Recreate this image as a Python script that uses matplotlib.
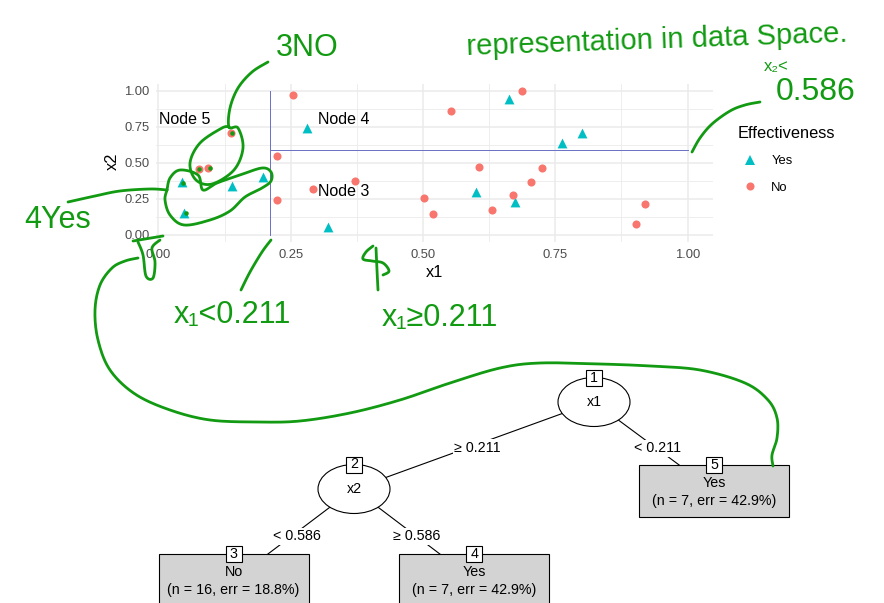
import matplotlib
matplotlib.use('Agg')
import matplotlib.pyplot as plt
import numpy as np
from matplotlib.patches import Ellipse, Rectangle
from matplotlib.lines import Line2D

plt.rcParams['font.family'] = ['Liberation Sans', 'DejaVu Sans']

# ---------------- data ----------------
yes_x1 = [0.044, 0.049, 0.140, 0.197, 0.280, 0.321, 0.663, 0.763, 0.801, 0.600, 0.673]
yes_x2 = [0.369, 0.155, 0.340, 0.404, 0.739, 0.058, 0.945, 0.635, 0.707, 0.298, 0.227]
no_x1 = [0.138, 0.077, 0.094, 0.255, 0.224, 0.225, 0.293, 0.371, 0.688, 0.552,
         0.605, 0.725, 0.704, 0.671, 0.501, 0.519, 0.630, 0.920, 0.903]
no_x2 = [0.705, 0.457, 0.464, 0.972, 0.550, 0.243, 0.321, 0.376, 0.998, 0.859,
         0.471, 0.466, 0.369, 0.275, 0.259, 0.148, 0.175, 0.213, 0.076]
class_labels = ['Yes', 'No']
split_var = ['x1', 'x2']
split_value = [0.211, 0.586]
node_names = ['Node 5', 'Node 4', 'Node 3']
node_label_x = [0.05, 0.35, 0.35]
node_label_y = [0.80, 0.80, 0.30]
term_ids = [3, 4, 5]
term_pred = ['No', 'Yes', 'Yes']
term_n = [16, 7, 7]
term_err = [18.8, 42.9, 42.9]
x_ticks = [0.0, 0.25, 0.50, 0.75, 1.00]
y_ticks = [0.0, 0.25, 0.50, 0.75, 1.00]

YES_C = '#00BFC4'
NO_C = '#F8766D'
GRID = '#EBEBEB'
SEG_C = '#6a70c4'
GREEN = '#129a12'

W, H = 884, 603
fig = plt.figure(figsize=(W / 100, H / 100), dpi=100)

# ---------------- scatter panel ----------------
xmin = min(min(yes_x1), min(no_x1), split_value[0]); xmax = 1.0
ymin = 0.0; ymax = 1.0
ex = 0.05 * (xmax - xmin); ey = 0.05 * (ymax - ymin)
L, R, T, B = 156.4, 712.9, 83.5, 242.2
ax = fig.add_axes([L / W, 1 - B / H, (R - L) / W, (B - T) / H])
ax.set_xlim(xmin - ex, xmax + ex)
ax.set_ylim(ymin - ey, ymax + ey)
ax.set_xticks(x_ticks)
ax.set_yticks(y_ticks)
ax.set_xticklabels([f'{v:.2f}' for v in x_ticks])
ax.set_yticklabels([f'{v:.2f}' for v in y_ticks])
ax.set_xticks([0.125, 0.375, 0.625, 0.875], minor=True)
ax.set_yticks([0.125, 0.375, 0.625, 0.875], minor=True)
ax.grid(which='major', color=GRID, lw=1.15)
ax.grid(which='minor', color=GRID, lw=0.6)
ax.set_axisbelow(True)
for s in ax.spines.values():
    s.set_visible(False)
ax.tick_params(which='both', length=0, labelsize=9.4, labelcolor='#4D4D4D', pad=5)

ax.plot([split_value[0], split_value[0]], [0, 1], color=SEG_C, lw=0.7, zorder=2)
ax.plot([split_value[0], 1.0], [split_value[1], split_value[1]], color=SEG_C, lw=0.7, zorder=2)
ax.scatter(yes_x1, yes_x2, marker='^', s=50, color=YES_C, linewidths=0, zorder=3)
ax.scatter(no_x1, no_x2, marker='o', s=34, color=NO_C, linewidths=0, zorder=3)
for nm, tx, ty in zip(node_names, node_label_x, node_label_y):
    ax.text(tx, ty, nm, fontsize=11.5, ha='center', va='center', color='black')

ax.set_xlabel('x1', fontsize=11.8)
ax.set_ylabel('x2', fontsize=11.8)
ax.xaxis.set_label_coords(0.499, -0.188)
ax.xaxis.label.set_va('center')
ax.yaxis.set_label_coords(-0.080, 0.507)
ax.yaxis.label.set_va('center')

handles = [Line2D([], [], marker='^', ls='', color=YES_C, markersize=7, markeredgewidth=0),
           Line2D([], [], marker='o', ls='', color=NO_C, markersize=5.8, markeredgewidth=0)]
ax.legend(handles, class_labels, title='Effectiveness', loc='upper left',
          bbox_to_anchor=(738 / W, 1 - 126 / H), bbox_transform=fig.transFigure,
          frameon=False, borderpad=0, borderaxespad=0, fontsize=9.4, title_fontsize=11.8,
          handlelength=1.85, handletextpad=0.7, labelspacing=1.1, alignment='left')

# ---------------- overlay (tree + annotations), pixel coords ----------------
ao = fig.add_axes([0, 0, 1, 1])
ao.set_xlim(0, W); ao.set_ylim(H, 0); ao.axis('off')

inner_pos = {1: (594, 402), 2: (354, 489)}
term_pos = {3: (233.5, 580), 4: (474.2, 580), 5: (714.3, 491)}
pos = dict(inner_pos); pos.update(term_pos)
edges = [(1, 2, f'\u2265 {split_value[0]}'), (1, 5, f'< {split_value[0]}'),
         (2, 3, f'< {split_value[1]}'), (2, 4, f'\u2265 {split_value[1]}')]
TFS = 10.3
for a, b, lab in edges:
    (x0, y0), (x1, y1) = pos[a], pos[b]
    ao.plot([x0, x1], [y0, y1], color='black', lw=0.8, zorder=1)
    ao.text((x0 + x1) / 2 + 3, (y0 + y1) / 2 + 2, lab, fontsize=TFS, ha='center', va='center',
            zorder=2, bbox=dict(fc='white', ec='none', pad=0.8))
EW, EH = 72, 49
for i, (nid, (cx, cy)) in enumerate(inner_pos.items()):
    ao.add_patch(Ellipse((cx, cy), EW, EH, fc='white', ec='black', lw=0.8, zorder=3))
    ao.text(cx, cy, split_var[i], fontsize=TFS, ha='center', va='center', zorder=5)
    ao.add_patch(Rectangle((cx - 8, cy - EH / 2 - 8), 16, 16, fc='white', ec='black', lw=0.8, zorder=4))
    ao.text(cx, cy - EH / 2, str(nid), fontsize=TFS, ha='center', va='center', zorder=5)
BW, BH = 150, 51.7
for nid, pred, n, err in zip(term_ids, term_pred, term_n, term_err):
    cx, cy = term_pos[nid]
    top = cy - BH / 2
    ao.add_patch(Rectangle((cx - BW / 2, top), BW, BH, fc='#D3D3D3', ec='black', lw=0.8, zorder=3))
    ao.add_patch(Rectangle((cx - 8, top - 8), 16, 16, fc='white', ec='black', lw=0.8, zorder=4))
    ao.text(cx, top, str(nid), fontsize=TFS, ha='center', va='center', zorder=5)
    ao.text(cx, cy - 8, pred, fontsize=TFS, ha='center', va='center', zorder=5)
    ao.text(cx, cy + 10, f'(n = {n}, err = {err}%)', fontsize=TFS, ha='center', va='center', zorder=5)


def smooth(pts, n=16):
    P = np.asarray(pts, float)
    P = np.vstack([P[0], P, P[-1]])
    out = []
    t = np.linspace(0, 1, n, endpoint=False)[:, None]
    for i in range(1, len(P) - 2):
        p0, p1, p2, p3 = P[i - 1], P[i], P[i + 1], P[i + 2]
        out.append(0.5 * (2 * p1 + (-p0 + p2) * t + (2 * p0 - 5 * p1 + 4 * p2 - p3) * t ** 2
                          + (-p0 + 3 * p1 - 3 * p2 + p3) * t ** 3))
    out.append(P[-2][None, :])
    return np.vstack(out)


def stroke(pts, lw=2.0):
    c = smooth(pts)
    ao.plot(c[:, 0], c[:, 1], color=GREEN, lw=lw, solid_capstyle='round',
            solid_joinstyle='round', zorder=8)

# loop around 3 No points
stroke([(268, 62), (252, 72), (238, 88), (230, 108), (229, 127), (238, 128), (243, 148),
        (234, 170), (212, 184), (196, 180), (190, 163), (200, 143), (222, 128), (229, 127)])
# line from "4Yes" and loop around 4 Yes points
stroke([(68, 202), (95, 196), (120, 191), (150, 189), (167, 190)])
stroke([(167, 190), (170, 178), (180, 170), (198, 175), (203, 190), (217, 183), (240, 175),
        (262, 168), (271, 172), (271, 181), (262, 188), (245, 197), (230, 211), (210, 220),
        (184, 225), (170, 215), (165, 200), (167, 190)])
# x1 < 0.211 pointer
stroke([(241, 290), (250, 272), (262, 252), (271, 240)])
# x1 >= 0.211 arrow
stroke([(378, 290), (377, 270), (376, 248)])
stroke([(373, 246), (366, 252), (363, 259), (372, 261), (383, 263), (389, 271), (383, 275)])
# x2 < 0.586 pointer
stroke([(692, 152), (700, 138), (712, 124), (730, 111), (745, 105), (760, 102)])
# big curve from node 5 to data-space corner
stroke([(773, 466), (772, 455), (777, 438), (777, 418), (768, 400), (745, 383), (700, 370),
        (650, 366), (600, 364), (540, 363), (500, 368), (450, 383), (400, 400), (350, 413),
        (300, 421), (258, 422), (210, 420), (170, 410), (135, 394), (110, 370), (98, 340),
        (95, 310), (100, 285), (112, 268), (125, 261), (138, 258)])
# funnel mark near origin
stroke([(133, 241), (145, 239), (163, 236)])
stroke([(138, 242), (143, 255), (146, 276), (153, 278), (155, 262), (152, 248), (160, 240)])
# dots on marked points
ao.scatter([232, 199, 210, 183, 186], [133, 169, 168, 183, 213], s=5, color=GREEN, zorder=8)

hw = dict(color=GREEN, ha='center', va='center', zorder=8)
ao.text(657, 40, 'representation in data Space.', fontsize=21, rotation=2, **hw)
ao.text(307, 48, '3NO', fontsize=22, **hw)
ao.text(776, 66, 'x\u2082<', fontsize=12, **hw)
ao.text(816, 92, '0.586', fontsize=23, **hw)
ao.text(58, 220, '4Yes', fontsize=22, **hw)
ao.text(232, 315, 'x\u2081<0.211', fontsize=22, **hw)
ao.text(440, 318, 'x\u2081\u22650.211', fontsize=22, **hw)

fig.savefig('out.png', dpi=100)
